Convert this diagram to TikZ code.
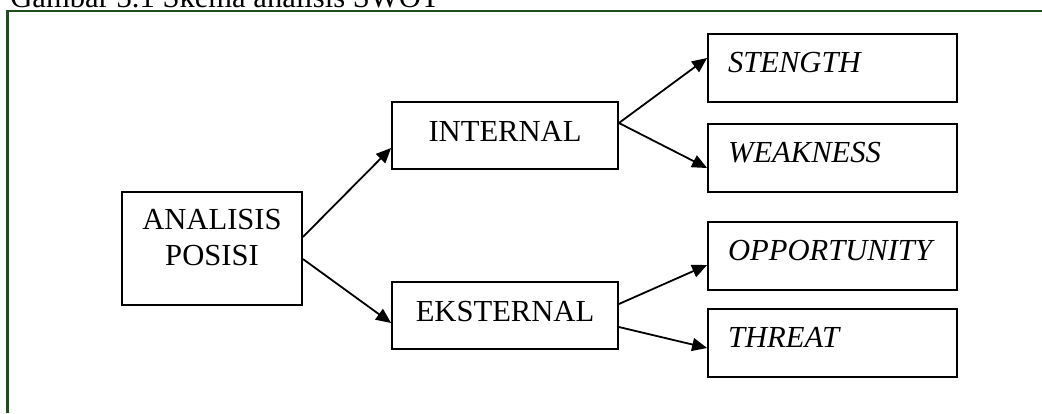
\documentclass[tikz,border=0pt]{standalone}
\usepackage{fontspec}
\setmainfont{Liberation Serif}
\usepackage{xcolor}
\usepackage{tikz}
\usetikzlibrary{arrows.meta}
\definecolor{framegreen}{RGB}{30, 78, 30}

\begin{document}
\begin{tikzpicture}[
  x=0.5pt, y=-0.5pt,
  every node/.style={font=\fontsize{15.3}{18}\selectfont},
  root/.style={draw, line width=0.9pt, minimum width=90pt, minimum height=56.5pt, text height=28.5pt, text depth=12pt, align=center},
  mid/.style={draw, line width=0.9pt, minimum width=113pt, minimum height=33.5pt, text height=10.5pt, text depth=5pt, align=center},
  swot/.style={draw, line width=0.9pt, text width=104.5pt, inner xsep=10pt, minimum height=34pt, text height=10.5pt, text depth=6pt, align=left, font=\fontsize{15.3}{18}\selectfont\itshape},
  arrow/.style={-{Triangle[length=7.5pt, width=6.5pt]}, line width=0.9pt},
  caption/.style={anchor=base west, inner sep=0pt}
]
  \useasboundingbox (0,0) rectangle (1042,413);

  % Judul dan bingkai
  \node[caption] (cap) at (10,7) {Gambar 3.1 Skema analisis SWOT};
  \draw[framegreen, line width=1.1pt] (7.5,413) -- (7.5,10.7) -- (1042,10.7);

  % Kotak
  \node[root] (pos) at (212,248.5) {ANALISIS\\POSISI};
  \node[mid] (int) at (505,135.5) {INTERNAL};
  \node[mid] (eks) at (505,315.5) {EKSTERNAL};

  \node[swot] (str) at (832.5,68) {STENGTH};
  \node[swot] (weak) at (832.5,158) {WEAKNESS};
  \node[swot] (opp) at (832.5,256) {OPPORTUNITY};
  \node[swot] (thr) at (832.5,343) {THREAT};

  % Panah
  \draw[arrow] ([yshift=5.75pt]pos.east) -- ([yshift=-6.25pt]int.west);
  \draw[arrow] ([yshift=-5.25pt]pos.east) -- ([yshift=-3.75pt]eks.west);

  \draw[arrow] ([yshift=6.25pt]int.east) -- ([yshift=5pt]str.west);
  \draw[arrow] ([yshift=6.25pt]int.east) -- ([yshift=-5pt]weak.west);

  \draw[arrow] ([yshift=5.75pt]eks.east) -- ([yshift=-4.5pt]opp.west);
  \draw[arrow] ([yshift=-5.75pt]eks.east) -- ([yshift=-2.5pt]thr.west);

\end{tikzpicture}
\end{document}
